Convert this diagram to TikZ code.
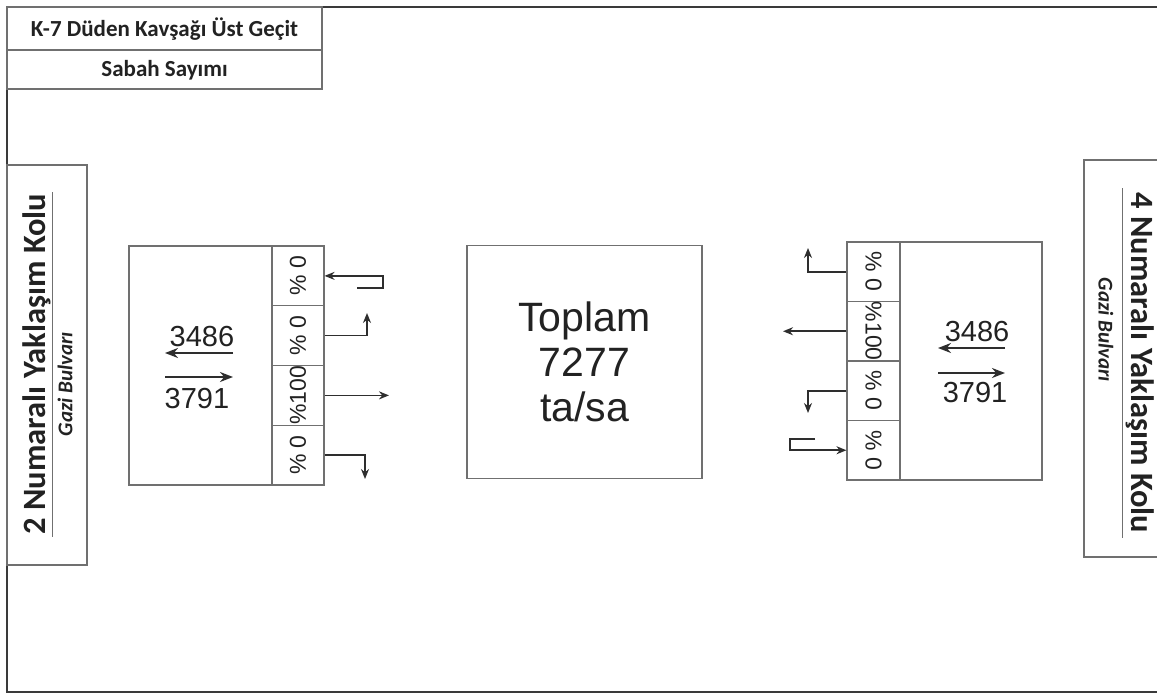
\documentclass[tikz,border=0pt]{standalone}
\usepackage{fontspec}
\setmainfont{Liberation Sans}
\newfontfamily\calfont{Carlito}
\usetikzlibrary{arrows.meta}
\definecolor{boxline}{HTML}{707070}
\definecolor{frameline}{HTML}{3A3A3A}
\definecolor{ink}{HTML}{222222}
\definecolor{arrowink}{HTML}{2E2E2E}
\tikzset{
  boxframe/.style={draw=boxline, line width=1.1pt, inner sep=0pt, text=ink},
  lanecell/.style={boxframe, minimum height=52pt, minimum width=59.75pt, font=\fontsize{23}{25}\selectfont},
  flowarrow/.style={draw=arrowink, line width=1.6pt, -{Stealth[length=10pt,width=8pt]}},
  countarrow/.style={draw=arrowink, line width=2pt, -{Stealth[length=13pt,width=10pt]}},
  countnum/.style={text=ink, inner sep=0pt, font=\fontsize{29}{31}\selectfont},
  titletext/.style={text=ink, inner sep=0pt, font=\calfont\bfseries\fontsize{23}{25}\selectfont},
  sidetext/.style={text=ink, inner sep=0pt, font=\calfont\bfseries\fontsize{32.5}{34}\selectfont},
  sidesub/.style={text=ink, inner sep=0pt, font=\calfont\bfseries\itshape\fontsize{21}{23}\selectfont},
}
\begin{document}
\begin{tikzpicture}[x=1pt, y=-1pt]
\useasboundingbox (0,0) rectangle (1157,696);
\clip (0,0) rectangle (1157,696);
\fill[white] (0,0) rectangle (1157,696);
% outer frame
\draw[frameline, line width=2pt] (7,7) rectangle (1170,692);
% title box
\draw[boxline, line width=1.1pt] (7,7) rectangle (322,89);
\draw[boxline, line width=1.1pt] (7,50) -- (322,50);
\node[titletext] (title) at (164.5,29.5) {K-7 Düden Kavşağı Üst Geçit};
\node[titletext] (subtitle) at (164.5,70) {Sabah Sayımı};

% left side label box
\draw[boxline, line width=1.1pt] (7,165) rectangle (87,565);
\node[sidetext, rotate=90] (leftlabel) at (37,364) {2 Numaralı Yaklaşım Kolu};
\draw[boxline, line width=1pt] (52,192) -- (52,537);
\node[sidesub, rotate=90] (leftsub) at (65,384) {Gazi Bulvarı};

% right side label box
\draw[boxline, line width=1.1pt] (1084,160) rectangle (1175,557);
\node[sidetext, rotate=-90] (rightlabel) at (1140,363) {4 Numaralı Yaklaşım Kolu};
\draw[boxline, line width=1pt] (1122,188) -- (1122,538);
\node[sidesub, rotate=-90] (rightsub) at (1106,330) {Gazi Bulvarı};

% left approach (lane labels read bottom to top)
\node[boxframe, minimum width=143pt, minimum height=239pt] (LB) at (200.5,365.5) {};
\node[lanecell, rotate=90] (Lc1) at (298,275.875) {\% 0};
\node[lanecell, rotate=90] (Lc2) at (298,335.625) {\% 0};
\node[lanecell, rotate=90] (Lc3) at (298,395.375) {\%100};
\node[lanecell, rotate=90] (Lc4) at (298,455.125) {\% 0};
\node[countnum] (Ln1) at (202,337) {3486};
\node[countnum] (Ln2) at (197,399) {3791};
\coordinate (La1s) at (233,353); \coordinate (La1e) at (165,353);
\coordinate (La2s) at (165,377); \coordinate (La2e) at (233,377);
\draw[countarrow] (La1s) -- (La1e);
\draw[countarrow] (La2s) -- (La2e);
\coordinate (Lu) at (357,288);
\draw[flowarrow] (Lu) -- (383,288) -- (383,275.875) -- (Lc1.south);
\draw[flowarrow] (Lc2.south) -- (367,335.625) -- (367,313);
\draw[flowarrow] (Lc3.south) -- (389,395.375);
\draw[flowarrow] (Lc4.south) -- (365,455.125) -- (365,479);

% center box
\node[boxframe, minimum width=235pt, minimum height=233pt, align=center, font=\fontsize{41}{45}\selectfont] (total) at (584.5,362) {Toplam\\7277\\ta/sa};

% right approach (lane labels read top to bottom)
\node[boxframe, minimum width=142pt, minimum height=238pt] (RB) at (971,361) {};
\node[lanecell, rotate=-90, minimum height=53pt, minimum width=59.5pt] (Rc1) at (873.5,271.75) {\% 0};
\node[lanecell, rotate=-90, minimum height=53pt, minimum width=59.5pt] (Rc2) at (873.5,331.25) {\%100};
\node[lanecell, rotate=-90, minimum height=53pt, minimum width=59.5pt] (Rc3) at (873.5,390.75) {\% 0};
\node[lanecell, rotate=-90, minimum height=53pt, minimum width=59.5pt] (Rc4) at (873.5,450.25) {\% 0};
\node[countnum] (Rn1) at (977,332) {3486};
\node[countnum] (Rn2) at (975,393) {3791};
\coordinate (Ra1s) at (1005,348); \coordinate (Ra1e) at (938,348);
\coordinate (Ra2s) at (938,373); \coordinate (Ra2e) at (1005,373);
\draw[countarrow] (Ra1s) -- (Ra1e);
\draw[countarrow] (Ra2s) -- (Ra2e);
\draw[flowarrow] (Rc1.south) -- (808,271.75) -- (808,248);
\draw[flowarrow] (Rc2.south) -- (783,331.25);
\draw[flowarrow] (Rc3.south) -- (808,390.75) -- (808,413);
\coordinate (Ru) at (815,439);
\draw[flowarrow] (Ru) -- (790,439) -- (790,450.25) -- (Rc4.south);
\end{tikzpicture}
\end{document}
